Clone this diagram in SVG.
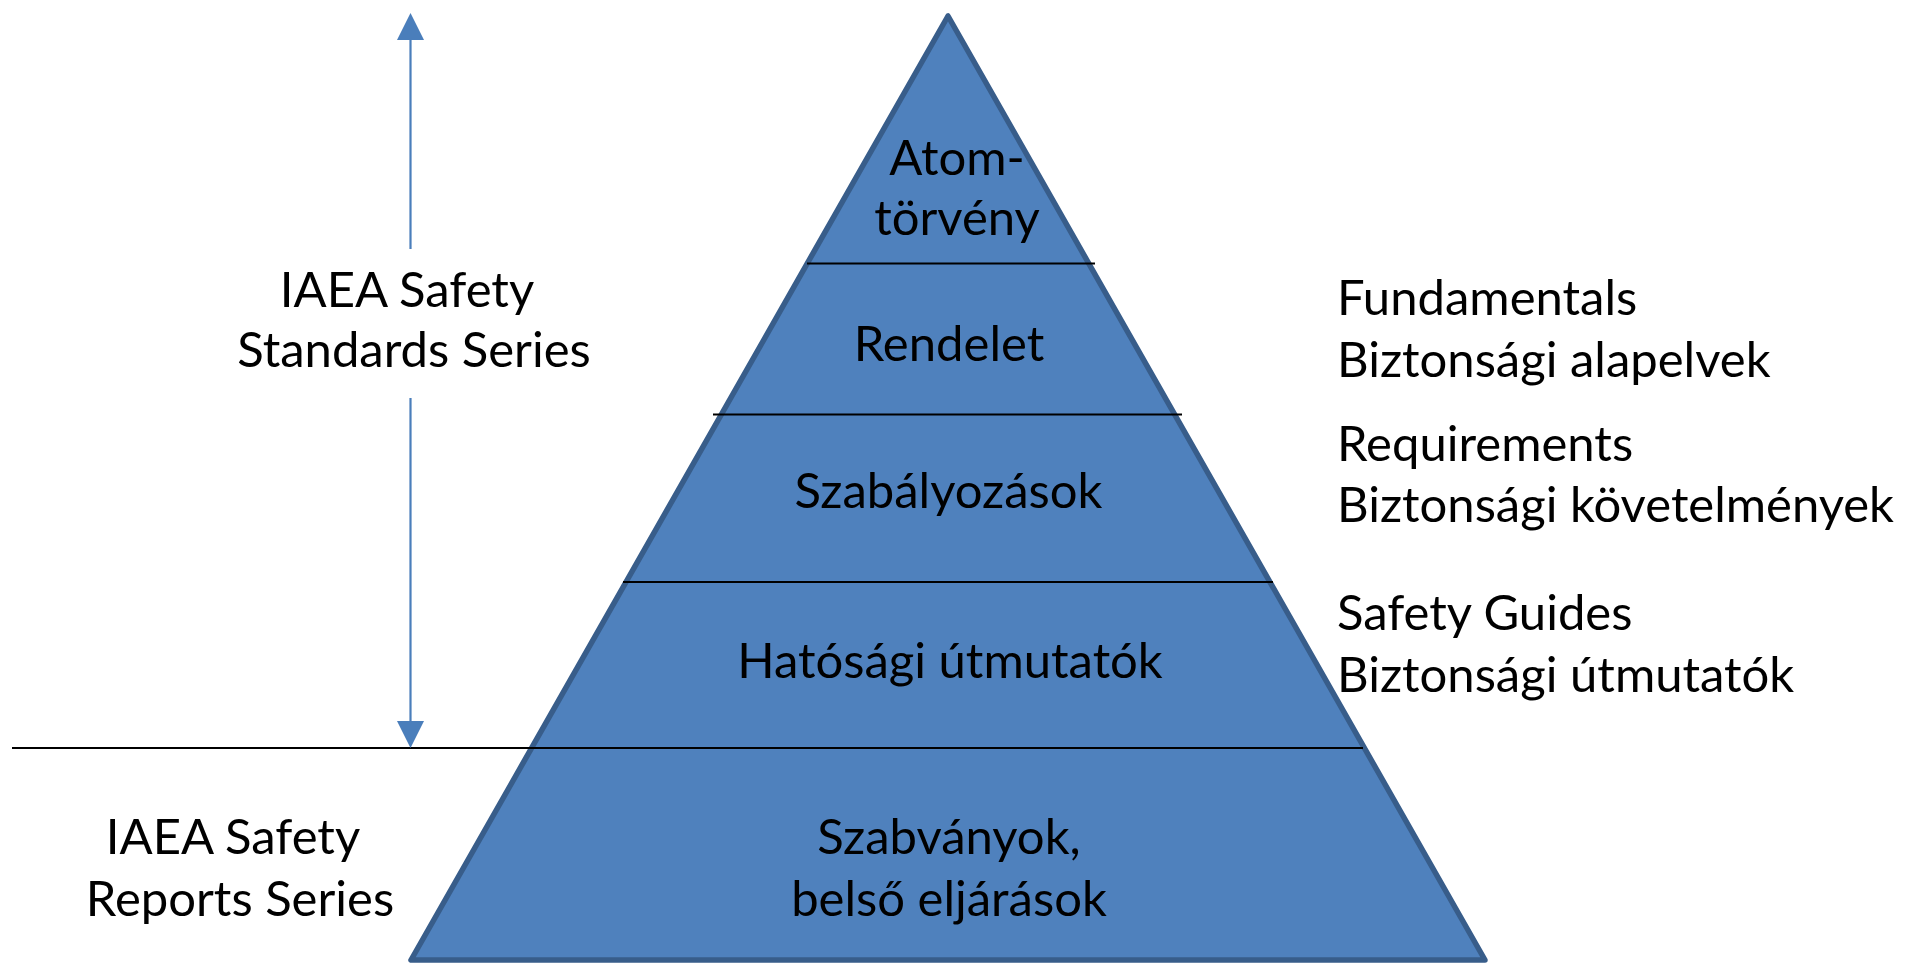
<svg xmlns="http://www.w3.org/2000/svg" width="1905" height="966" viewBox="0 0 1905 966">
<style>
text{font-family:Lato,"Liberation Sans",sans-serif;font-size:49px;fill:#000}
.c{text-anchor:middle}
.sep{stroke:#000;stroke-width:2;fill:none}
.arr{stroke:#4A7EBB;stroke-width:2.2;fill:none}
.head{fill:#4A7EBB}
</style>
<rect width="1905" height="966" fill="#fff"/>
<g id="pyramid">
<polygon points="948,16 411,960 1485,960" fill="#4F81BD" stroke="#385D8A" stroke-width="5.5" stroke-linejoin="round"/>
</g>
<g id="connectors">
<line class="sep" x1="807" y1="263.5" x2="1095" y2="263.5"/>
<line class="sep" x1="713" y1="414.5" x2="1182" y2="414.5"/>
<line class="sep" x1="623" y1="582" x2="1273" y2="582"/>
<line class="sep" x1="12" y1="748" x2="1363" y2="748"/>
<line class="arr" x1="410.5" y1="39" x2="410.5" y2="249"/>
<line class="arr" x1="410.5" y1="398" x2="410.5" y2="722"/>
<polygon class="head" points="410.5,13 397,40 424,40"/>
<polygon class="head" points="410.5,748 397,721 424,721"/>
</g>
<g id="level-atomtorveny">
<text class="c" x="957" y="175">Atom-</text>
<text class="c" x="957" y="235">törvény</text>
</g>
<g id="level-rendelet"><text class="c" x="949" y="361">Rendelet</text></g>
<g id="level-szabalyozasok"><text class="c" x="948.5" y="508">Szabályozások</text></g>
<g id="level-hatosagi"><text class="c" x="950" y="678">Hatósági útmutatók</text></g>
<g id="level-szabvanyok">
<text class="c" x="949" y="854">Szabványok,</text>
<text class="c" x="949" y="916">belső eljárások</text>
</g>
<g id="label-standards">
<text class="c" x="407" y="307">IAEA Safety</text>
<text class="c" x="414" y="367">Standards Series</text>
</g>
<g id="label-reports">
<text class="c" x="233" y="854">IAEA Safety</text>
<text class="c" x="240" y="916">Reports Series</text>
</g>
<g id="label-fundamentals">
<text x="1337" y="315">Fundamentals</text>
<text x="1337" y="377">Biztonsági alapelvek</text>
</g>
<g id="label-requirements">
<text x="1337" y="461">Requirements</text>
<text x="1337" y="522">Biztonsági követelmények</text>
</g>
<g id="label-guides">
<text x="1337" y="630">Safety Guides</text>
<text x="1337" y="692">Biztonsági útmutatók</text>
</g>
</svg>
